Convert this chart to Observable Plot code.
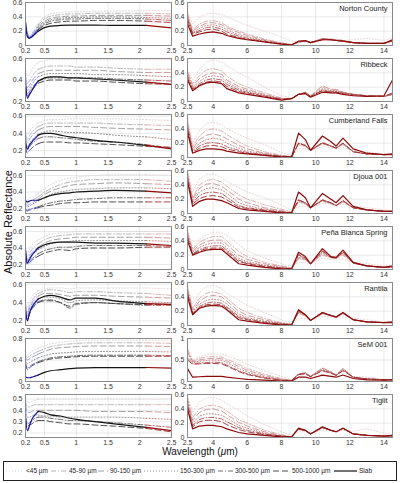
<!DOCTYPE html>
<html>
<head>
<meta charset="utf-8">
<script src="https://cdn.jsdelivr.net/npm/d3@7"></script>
<script src="https://cdn.jsdelivr.net/npm/@observablehq/plot@0.6"></script>
<style>
  body { margin: 0; background: #fff; }
  #fig { position: relative; width: 400px; height: 483px; overflow: hidden; background: #fff;
         font-family: "Liberation Sans", Arial, Helvetica, sans-serif; color: #222; }
  #fig svg { position: absolute; overflow: visible; }
  .lbl { position: absolute; white-space: nowrap; color: #111; }
</style>
</head>
<body>
<div id="fig"></div>
<script>
// ---- categories and axis labels ----
const sizes = ["<45 µm", "45-90 µm", "90-150 µm", "150-300 µm", "300-500 µm", "500-1000 µm", "Slab"];
const meteorites = ["Norton County", "Ribbeck", "Cumberland Falls", "Djoua 001",
                    "Peña Blanca Spring", "Rantila", "SeM 001", "Tiglit"];

// wavelength samples (µm)
const wlVis = [0.2, 0.23, 0.26, 0.3, 0.35, 0.4, 0.5, 0.6, 0.75, 0.9, 1.0, 1.3, 1.6, 2.1, 2.5];
const wlIr = [2.5, 2.8, 3.2, 3.6, 4.0, 4.5, 4.8, 5.5, 6.0, 7.0, 8.0, 8.6, 9.0, 9.4, 9.7,
              10.4, 10.9, 11.2, 11.6, 12.2, 13.0, 14.0, 14.5];

const visTicks = [0.2, 0.5, 1, 1.5, 2, 2.5];
const irTicks = [2.5, 4, 6, 8, 10, 12, 14];
const yTicksVis = [[0, 0.2, 0.4, 0.6], [0.2, 0.4, 0.6], [0.2, 0.4, 0.6], [0.2, 0.4, 0.6],
                   [0.2, 0.4, 0.6], [0.2, 0.4, 0.6], [0, 0.4, 0.8], [0.2, 0.3, 0.4, 0.5]];
const yTicksIr = [[0, 0.2, 0.4, 0.6], [0, 0.2, 0.4, 0.6], [0, 0.2, 0.4, 0.6], [0, 0.2, 0.4, 0.6],
                  [0, 0.2, 0.4, 0.6], [0, 0.2, 0.4, 0.6], [0, 0.5, 1], [0, 0.2, 0.4, 0.6]];
const yLimVis = [[0, 0.6], [0.2, 0.6], [0.12, 0.62], [0.14, 0.66], [0.14, 0.66], [0.15, 0.62], [0, 0.8], [0.16, 0.54]];
const yLimIr = [[0, 0.6], [0, 0.6], [0, 0.6], [0, 0.6], [0, 0.6], [0, 0.6], [0, 1], [0, 0.6]];

// ---- reflectance, one row per grain size (<45 ... Slab) ----
const nortonVis = [
  [0.36, 0.2, 0.14, 0.17, 0.24, 0.32, 0.40, 0.44, 0.46, 0.47, 0.47, 0.48, 0.48, 0.49, 0.49],
  [0.34, 0.18, 0.13, 0.16, 0.22, 0.29, 0.37, 0.41, 0.43, 0.44, 0.44, 0.45, 0.45, 0.45, 0.44],
  [0.32, 0.16, 0.12, 0.15, 0.2, 0.27, 0.34, 0.38, 0.40, 0.41, 0.41, 0.42, 0.42, 0.42, 0.41],
  [0.3, 0.15, 0.12, 0.14, 0.19, 0.25, 0.32, 0.36, 0.38, 0.39, 0.39, 0.40, 0.40, 0.39, 0.38],
  [0.28, 0.14, 0.11, 0.13, 0.18, 0.23, 0.30, 0.34, 0.36, 0.37, 0.37, 0.38, 0.38, 0.37, 0.35],
  [0.26, 0.13, 0.11, 0.13, 0.17, 0.22, 0.28, 0.31, 0.33, 0.34, 0.34, 0.35, 0.35, 0.34, 0.32],
  [0.32, 0.12, 0.1, 0.12, 0.16, 0.2, 0.25, 0.27, 0.28, 0.285, 0.285, 0.285, 0.28, 0.28, 0.245]
];
const nortonIr = [
  [0.5, 0.3, 0.4, 0.44, 0.45, 0.43, 0.4, 0.33, 0.28, 0.2, 0.12, 0.06, 0.05, 0.06, 0.05, 0.08, 0.08, 0.07, 0.07, 0.08, 0.1, 0.07, 0.1],
  [0.45, 0.22, 0.3, 0.34, 0.35, 0.32, 0.27, 0.2, 0.16, 0.09, 0.04, 0.01, 0.05, 0.06, 0.04, 0.1, 0.09, 0.08, 0.07, 0.04, 0.03, 0.03, 0.06],
  [0.42, 0.2, 0.27, 0.31, 0.32, 0.29, 0.25, 0.18, 0.14, 0.08, 0.03, 0.01, 0.05, 0.06, 0.04, 0.1, 0.09, 0.08, 0.07, 0.04, 0.03, 0.03, 0.06],
  [0.4, 0.18, 0.24, 0.28, 0.29, 0.26, 0.22, 0.15, 0.12, 0.07, 0.03, 0.01, 0.05, 0.06, 0.04, 0.09, 0.08, 0.08, 0.07, 0.04, 0.03, 0.03, 0.06],
  [0.38, 0.17, 0.21, 0.25, 0.26, 0.23, 0.19, 0.13, 0.1, 0.06, 0.02, 0.01, 0.05, 0.06, 0.04, 0.09, 0.08, 0.07, 0.06, 0.04, 0.03, 0.03, 0.06],
  [0.35, 0.16, 0.19, 0.22, 0.23, 0.2, 0.16, 0.11, 0.09, 0.05, 0.02, 0.01, 0.05, 0.06, 0.04, 0.08, 0.08, 0.07, 0.06, 0.04, 0.03, 0.03, 0.07],
  [0.3, 0.13, 0.16, 0.18, 0.19, 0.17, 0.14, 0.1, 0.08, 0.05, 0.02, 0.01, 0.06, 0.07, 0.04, 0.08, 0.08, 0.07, 0.06, 0.04, 0.03, 0.03, 0.08]
];
const ribbeckVis = [
  [0.52, 0.44, 0.45, 0.5, 0.54, 0.56, 0.58, 0.59, 0.59, 0.59, 0.59, 0.59, 0.59, 0.59, 0.59],
  [0.46, 0.37, 0.39, 0.43, 0.47, 0.5, 0.52, 0.53, 0.53, 0.53, 0.52, 0.52, 0.51, 0.5, 0.5],
  [0.42, 0.33, 0.35, 0.39, 0.43, 0.46, 0.48, 0.49, 0.49, 0.49, 0.49, 0.49, 0.48, 0.47, 0.47],
  [0.4, 0.3, 0.32, 0.36, 0.4, 0.43, 0.45, 0.46, 0.46, 0.46, 0.46, 0.45, 0.45, 0.44, 0.43],
  [0.36, 0.27, 0.29, 0.33, 0.36, 0.39, 0.41, 0.42, 0.42, 0.42, 0.42, 0.42, 0.41, 0.4, 0.39],
  [0.34, 0.25, 0.27, 0.31, 0.34, 0.37, 0.39, 0.4, 0.4, 0.4, 0.39, 0.39, 0.38, 0.365, 0.36],
  [0.36, 0.23, 0.26, 0.3, 0.35, 0.39, 0.42, 0.43, 0.43, 0.42, 0.42, 0.41, 0.4, 0.38, 0.36]
];
const ribbeckIr = [
  [0.45, 0.3, 0.45, 0.55, 0.58, 0.55, 0.5, 0.4, 0.34, 0.2, 0.08, 0.05, 0.1, 0.12, 0.08, 0.14, 0.12, 0.12, 0.1, 0.08, 0.08, 0.08, 0.12],
  [0.42, 0.25, 0.36, 0.44, 0.46, 0.43, 0.35, 0.25, 0.2, 0.12, 0.05, 0.04, 0.1, 0.13, 0.08, 0.2, 0.16, 0.16, 0.13, 0.1, 0.08, 0.07, 0.1],
  [0.4, 0.22, 0.32, 0.38, 0.4, 0.38, 0.3, 0.21, 0.17, 0.1, 0.04, 0.04, 0.1, 0.13, 0.08, 0.22, 0.17, 0.17, 0.13, 0.1, 0.08, 0.07, 0.1],
  [0.38, 0.2, 0.28, 0.34, 0.36, 0.34, 0.27, 0.18, 0.15, 0.09, 0.04, 0.04, 0.1, 0.12, 0.07, 0.18, 0.15, 0.15, 0.12, 0.1, 0.08, 0.07, 0.1],
  [0.35, 0.18, 0.25, 0.3, 0.32, 0.3, 0.24, 0.16, 0.13, 0.08, 0.03, 0.04, 0.1, 0.12, 0.07, 0.16, 0.14, 0.14, 0.12, 0.1, 0.08, 0.07, 0.1],
  [0.32, 0.17, 0.23, 0.27, 0.29, 0.27, 0.21, 0.14, 0.12, 0.07, 0.03, 0.04, 0.1, 0.12, 0.07, 0.15, 0.13, 0.13, 0.11, 0.09, 0.08, 0.07, 0.12],
  [0.3, 0.15, 0.22, 0.26, 0.27, 0.25, 0.18, 0.12, 0.1, 0.06, 0.02, 0.04, 0.1, 0.11, 0.06, 0.13, 0.12, 0.12, 0.1, 0.08, 0.07, 0.08, 0.3]
];
const cumberlandVis = [
  [0.45, 0.38, 0.42, 0.46, 0.5, 0.52, 0.55, 0.56, 0.56, 0.57, 0.57, 0.57, 0.57, 0.56, 0.55],
  [0.4, 0.33, 0.37, 0.41, 0.45, 0.48, 0.51, 0.52, 0.52, 0.52, 0.52, 0.52, 0.51, 0.5, 0.49],
  [0.36, 0.29, 0.33, 0.37, 0.41, 0.44, 0.47, 0.48, 0.48, 0.48, 0.48, 0.47, 0.46, 0.45, 0.44],
  [0.32, 0.25, 0.28, 0.32, 0.36, 0.39, 0.42, 0.43, 0.42, 0.41, 0.41, 0.4, 0.38, 0.36, 0.33],
  [0.28, 0.21, 0.24, 0.28, 0.31, 0.34, 0.36, 0.36, 0.35, 0.34, 0.33, 0.31, 0.3, 0.27, 0.23],
  [0.24, 0.17, 0.2, 0.23, 0.26, 0.28, 0.3, 0.3, 0.3, 0.29, 0.29, 0.28, 0.27, 0.25, 0.24],
  [0.3, 0.22, 0.26, 0.3, 0.34, 0.38, 0.4, 0.4, 0.38, 0.36, 0.35, 0.32, 0.3, 0.26, 0.22]
];
const cumberlandIr = [
  [0.55, 0.2, 0.38, 0.47, 0.49, 0.46, 0.4, 0.32, 0.27, 0.18, 0.07, 0.02, 0.12, 0.12, 0.1, 0.15, 0.14, 0.12, 0.14, 0.1, 0.08, 0.05, 0.05],
  [0.5, 0.15, 0.3, 0.38, 0.4, 0.37, 0.32, 0.22, 0.16, 0.08, 0.03, 0.01, 0.18, 0.15, 0.1, 0.19, 0.16, 0.13, 0.18, 0.08, 0.05, 0.04, 0.04],
  [0.47, 0.12, 0.25, 0.31, 0.33, 0.3, 0.26, 0.17, 0.12, 0.06, 0.02, 0.01, 0.19, 0.16, 0.1, 0.2, 0.16, 0.13, 0.19, 0.08, 0.05, 0.04, 0.04],
  [0.45, 0.1, 0.2, 0.25, 0.27, 0.25, 0.2, 0.13, 0.09, 0.05, 0.02, 0.01, 0.2, 0.16, 0.1, 0.2, 0.16, 0.13, 0.2, 0.08, 0.05, 0.04, 0.04],
  [0.42, 0.08, 0.16, 0.2, 0.21, 0.19, 0.15, 0.1, 0.07, 0.04, 0.02, 0.01, 0.2, 0.17, 0.1, 0.2, 0.16, 0.13, 0.2, 0.08, 0.05, 0.04, 0.04],
  [0.4, 0.07, 0.13, 0.16, 0.17, 0.15, 0.12, 0.08, 0.06, 0.03, 0.01, 0.01, 0.2, 0.17, 0.1, 0.21, 0.16, 0.13, 0.2, 0.08, 0.05, 0.04, 0.04],
  [0.35, 0.06, 0.1, 0.12, 0.12, 0.11, 0.09, 0.06, 0.05, 0.03, 0.01, 0.01, 0.34, 0.25, 0.1, 0.3, 0.22, 0.16, 0.27, 0.12, 0.06, 0.04, 0.05]
];
const djouaVis = [
  [0.32, 0.3, 0.32, 0.34, 0.36, 0.38, 0.44, 0.49, 0.54, 0.57, 0.58, 0.6, 0.61, 0.61, 0.6],
  [0.28, 0.26, 0.28, 0.3, 0.32, 0.34, 0.4, 0.44, 0.49, 0.52, 0.53, 0.55, 0.55, 0.55, 0.53],
  [0.26, 0.24, 0.25, 0.27, 0.29, 0.31, 0.37, 0.41, 0.45, 0.48, 0.49, 0.5, 0.51, 0.5, 0.49],
  [0.24, 0.22, 0.23, 0.25, 0.27, 0.29, 0.33, 0.37, 0.4, 0.42, 0.43, 0.44, 0.45, 0.45, 0.44],
  [0.2, 0.18, 0.19, 0.2, 0.21, 0.22, 0.25, 0.27, 0.29, 0.3, 0.31, 0.32, 0.33, 0.33, 0.33],
  [0.18, 0.17, 0.18, 0.19, 0.2, 0.21, 0.23, 0.24, 0.26, 0.27, 0.27, 0.28, 0.28, 0.28, 0.28],
  [0.3, 0.28, 0.29, 0.3, 0.3, 0.3, 0.33, 0.36, 0.38, 0.39, 0.4, 0.41, 0.42, 0.41, 0.39]
];
const djouaIr = [
  [0.6, 0.3, 0.48, 0.54, 0.55, 0.5, 0.45, 0.36, 0.3, 0.22, 0.12, 0.04, 0.1, 0.1, 0.08, 0.14, 0.13, 0.11, 0.13, 0.1, 0.08, 0.05, 0.04],
  [0.58, 0.22, 0.4, 0.46, 0.48, 0.44, 0.38, 0.26, 0.2, 0.12, 0.06, 0.02, 0.16, 0.13, 0.08, 0.17, 0.14, 0.11, 0.16, 0.08, 0.05, 0.03, 0.03],
  [0.55, 0.2, 0.35, 0.41, 0.42, 0.38, 0.33, 0.2, 0.15, 0.08, 0.04, 0.01, 0.17, 0.14, 0.08, 0.18, 0.14, 0.11, 0.17, 0.08, 0.05, 0.03, 0.03],
  [0.52, 0.17, 0.3, 0.35, 0.36, 0.33, 0.28, 0.15, 0.11, 0.06, 0.03, 0.01, 0.18, 0.14, 0.08, 0.18, 0.14, 0.11, 0.18, 0.08, 0.05, 0.03, 0.03],
  [0.5, 0.15, 0.25, 0.29, 0.3, 0.28, 0.23, 0.11, 0.08, 0.05, 0.02, 0.01, 0.19, 0.15, 0.08, 0.19, 0.15, 0.11, 0.18, 0.08, 0.05, 0.03, 0.03],
  [0.48, 0.13, 0.21, 0.24, 0.25, 0.23, 0.19, 0.09, 0.07, 0.04, 0.02, 0.01, 0.19, 0.15, 0.08, 0.19, 0.15, 0.11, 0.18, 0.08, 0.05, 0.03, 0.03],
  [0.45, 0.1, 0.17, 0.2, 0.2, 0.18, 0.15, 0.07, 0.05, 0.03, 0.01, 0.01, 0.3, 0.22, 0.08, 0.28, 0.2, 0.15, 0.25, 0.1, 0.05, 0.03, 0.03]
];
const penaVis = [
  [0.4, 0.34, 0.38, 0.43, 0.47, 0.5, 0.54, 0.57, 0.58, 0.59, 0.6, 0.6, 0.6, 0.6, 0.6],
  [0.36, 0.3, 0.33, 0.38, 0.42, 0.45, 0.5, 0.53, 0.55, 0.56, 0.57, 0.57, 0.57, 0.57, 0.57],
  [0.33, 0.27, 0.3, 0.34, 0.38, 0.41, 0.46, 0.49, 0.51, 0.52, 0.53, 0.53, 0.53, 0.53, 0.52],
  [0.31, 0.25, 0.28, 0.32, 0.35, 0.38, 0.42, 0.45, 0.47, 0.48, 0.49, 0.49, 0.49, 0.49, 0.48],
  [0.3, 0.22, 0.24, 0.27, 0.3, 0.33, 0.37, 0.39, 0.41, 0.41, 0.42, 0.43, 0.43, 0.43, 0.42],
  [0.28, 0.2, 0.22, 0.25, 0.28, 0.3, 0.34, 0.36, 0.38, 0.37, 0.39, 0.4, 0.4, 0.41, 0.41],
  [0.38, 0.22, 0.26, 0.31, 0.36, 0.4, 0.44, 0.46, 0.47, 0.47, 0.47, 0.46, 0.46, 0.45, 0.43]
];
const penaIr = [
  [0.55, 0.3, 0.42, 0.48, 0.52, 0.52, 0.47, 0.35, 0.26, 0.16, 0.08, 0.04, 0.1, 0.1, 0.08, 0.16, 0.14, 0.13, 0.15, 0.1, 0.08, 0.05, 0.05],
  [0.53, 0.28, 0.38, 0.43, 0.46, 0.46, 0.4, 0.25, 0.18, 0.1, 0.05, 0.02, 0.15, 0.13, 0.08, 0.2, 0.16, 0.15, 0.2, 0.09, 0.05, 0.03, 0.03],
  [0.5, 0.26, 0.34, 0.39, 0.41, 0.41, 0.35, 0.2, 0.14, 0.08, 0.04, 0.02, 0.16, 0.14, 0.08, 0.22, 0.17, 0.16, 0.22, 0.09, 0.05, 0.03, 0.03],
  [0.48, 0.24, 0.31, 0.35, 0.37, 0.37, 0.3, 0.16, 0.11, 0.06, 0.03, 0.01, 0.17, 0.14, 0.08, 0.23, 0.17, 0.16, 0.23, 0.09, 0.05, 0.03, 0.03],
  [0.46, 0.22, 0.28, 0.31, 0.33, 0.33, 0.27, 0.13, 0.09, 0.05, 0.02, 0.01, 0.2, 0.15, 0.08, 0.25, 0.17, 0.16, 0.24, 0.09, 0.05, 0.03, 0.03],
  [0.44, 0.21, 0.26, 0.29, 0.3, 0.3, 0.25, 0.11, 0.08, 0.04, 0.02, 0.01, 0.21, 0.16, 0.08, 0.26, 0.17, 0.16, 0.25, 0.09, 0.05, 0.03, 0.03],
  [0.4, 0.2, 0.24, 0.27, 0.28, 0.28, 0.22, 0.08, 0.06, 0.03, 0.01, 0.01, 0.24, 0.18, 0.08, 0.29, 0.18, 0.17, 0.27, 0.1, 0.05, 0.03, 0.05]
];
const rantilaVis = [
  [0.42, 0.34, 0.4, 0.46, 0.5, 0.53, 0.55, 0.56, 0.56, 0.55, 0.56, 0.56, 0.56, 0.56, 0.55],
  [0.38, 0.3, 0.36, 0.42, 0.47, 0.5, 0.53, 0.54, 0.53, 0.51, 0.52, 0.52, 0.51, 0.5, 0.48],
  [0.35, 0.27, 0.33, 0.39, 0.44, 0.47, 0.5, 0.5, 0.49, 0.47, 0.48, 0.48, 0.47, 0.46, 0.45],
  [0.33, 0.25, 0.31, 0.37, 0.41, 0.44, 0.46, 0.46, 0.44, 0.4, 0.42, 0.43, 0.42, 0.41, 0.4],
  [0.3, 0.22, 0.28, 0.34, 0.38, 0.41, 0.43, 0.43, 0.4, 0.34, 0.38, 0.4, 0.39, 0.37, 0.37],
  [0.28, 0.21, 0.27, 0.33, 0.37, 0.4, 0.42, 0.42, 0.4, 0.36, 0.39, 0.4, 0.39, 0.38, 0.38],
  [0.32, 0.2, 0.28, 0.35, 0.4, 0.44, 0.47, 0.48, 0.46, 0.43, 0.45, 0.45, 0.42, 0.39, 0.38]
];
const rantilaIr = [
  [0.55, 0.3, 0.46, 0.54, 0.56, 0.52, 0.45, 0.35, 0.28, 0.18, 0.08, 0.03, 0.1, 0.1, 0.08, 0.13, 0.12, 0.11, 0.12, 0.1, 0.08, 0.05, 0.05],
  [0.52, 0.24, 0.38, 0.45, 0.47, 0.44, 0.38, 0.24, 0.18, 0.1, 0.04, 0.02, 0.17, 0.13, 0.07, 0.16, 0.13, 0.11, 0.16, 0.08, 0.05, 0.04, 0.04],
  [0.5, 0.21, 0.34, 0.4, 0.42, 0.4, 0.34, 0.2, 0.14, 0.08, 0.03, 0.01, 0.18, 0.14, 0.07, 0.17, 0.14, 0.11, 0.17, 0.08, 0.05, 0.04, 0.04],
  [0.48, 0.19, 0.3, 0.35, 0.37, 0.35, 0.3, 0.16, 0.11, 0.06, 0.03, 0.01, 0.19, 0.14, 0.07, 0.17, 0.14, 0.11, 0.17, 0.08, 0.05, 0.04, 0.04],
  [0.46, 0.17, 0.27, 0.31, 0.33, 0.31, 0.26, 0.13, 0.09, 0.05, 0.02, 0.01, 0.2, 0.15, 0.07, 0.18, 0.14, 0.12, 0.18, 0.08, 0.05, 0.04, 0.04],
  [0.44, 0.16, 0.25, 0.29, 0.3, 0.29, 0.24, 0.11, 0.08, 0.04, 0.02, 0.01, 0.2, 0.15, 0.07, 0.18, 0.14, 0.12, 0.18, 0.08, 0.05, 0.04, 0.04],
  [0.4, 0.15, 0.24, 0.27, 0.28, 0.27, 0.22, 0.08, 0.06, 0.03, 0.01, 0.01, 0.22, 0.15, 0.07, 0.18, 0.14, 0.12, 0.18, 0.08, 0.05, 0.04, 0.05]
];
const semVis = [
  [0.55, 0.5, 0.52, 0.56, 0.59, 0.62, 0.66, 0.7, 0.73, 0.75, 0.76, 0.77, 0.77, 0.77, 0.77],
  [0.5, 0.45, 0.47, 0.5, 0.53, 0.56, 0.61, 0.65, 0.68, 0.7, 0.71, 0.72, 0.72, 0.72, 0.71],
  [0.45, 0.4, 0.42, 0.45, 0.48, 0.51, 0.56, 0.6, 0.63, 0.64, 0.65, 0.66, 0.66, 0.66, 0.65],
  [0.4, 0.33, 0.35, 0.38, 0.41, 0.44, 0.48, 0.51, 0.53, 0.54, 0.55, 0.56, 0.56, 0.56, 0.55],
  [0.35, 0.24, 0.27, 0.31, 0.34, 0.37, 0.41, 0.44, 0.46, 0.47, 0.48, 0.49, 0.49, 0.49, 0.48],
  [0.33, 0.22, 0.25, 0.29, 0.32, 0.35, 0.39, 0.42, 0.44, 0.45, 0.46, 0.47, 0.47, 0.47, 0.47],
  [0.09, 0.07, 0.07, 0.08, 0.1, 0.12, 0.17, 0.2, 0.22, 0.24, 0.25, 0.26, 0.26, 0.26, 0.25]
];
const semIr = [
  [0.8, 0.5, 0.58, 0.62, 0.64, 0.64, 0.6, 0.5, 0.4, 0.25, 0.12, 0.05, 0.15, 0.16, 0.12, 0.25, 0.2, 0.16, 0.25, 0.12, 0.1, 0.05, 0.05],
  [0.75, 0.48, 0.54, 0.57, 0.58, 0.57, 0.52, 0.4, 0.3, 0.17, 0.07, 0.03, 0.18, 0.2, 0.12, 0.3, 0.22, 0.15, 0.3, 0.1, 0.06, 0.04, 0.04],
  [0.7, 0.46, 0.5, 0.53, 0.54, 0.53, 0.48, 0.35, 0.26, 0.14, 0.05, 0.02, 0.18, 0.2, 0.12, 0.32, 0.22, 0.15, 0.3, 0.1, 0.06, 0.04, 0.04],
  [0.65, 0.44, 0.47, 0.49, 0.5, 0.49, 0.44, 0.3, 0.22, 0.11, 0.04, 0.02, 0.17, 0.2, 0.12, 0.3, 0.22, 0.15, 0.3, 0.1, 0.06, 0.04, 0.04],
  [0.55, 0.42, 0.43, 0.44, 0.45, 0.44, 0.38, 0.25, 0.18, 0.09, 0.03, 0.02, 0.16, 0.19, 0.11, 0.27, 0.2, 0.14, 0.27, 0.1, 0.06, 0.04, 0.04],
  [0.5, 0.4, 0.41, 0.42, 0.42, 0.41, 0.36, 0.23, 0.16, 0.08, 0.03, 0.02, 0.16, 0.18, 0.11, 0.25, 0.19, 0.14, 0.25, 0.1, 0.06, 0.04, 0.04],
  [0.3, 0.1, 0.11, 0.12, 0.12, 0.12, 0.1, 0.07, 0.05, 0.03, 0.01, 0.01, 0.1, 0.1, 0.07, 0.15, 0.12, 0.1, 0.15, 0.07, 0.04, 0.03, 0.04]
];
const tiglitVis = [
  [0.51, 0.47, 0.47, 0.48, 0.49, 0.5, 0.5, 0.5, 0.5, 0.5, 0.5, 0.5, 0.5, 0.5, 0.5],
  [0.48, 0.43, 0.43, 0.44, 0.45, 0.45, 0.45, 0.45, 0.45, 0.45, 0.45, 0.45, 0.45, 0.45, 0.45],
  [0.45, 0.38, 0.38, 0.39, 0.4, 0.4, 0.4, 0.4, 0.4, 0.4, 0.4, 0.39, 0.39, 0.39, 0.38],
  [0.42, 0.34, 0.34, 0.35, 0.36, 0.36, 0.35, 0.35, 0.34, 0.34, 0.34, 0.34, 0.34, 0.33, 0.32],
  [0.36, 0.28, 0.29, 0.31, 0.33, 0.34, 0.34, 0.33, 0.32, 0.31, 0.31, 0.3, 0.29, 0.27, 0.25],
  [0.33, 0.26, 0.27, 0.28, 0.3, 0.31, 0.31, 0.3, 0.29, 0.28, 0.28, 0.27, 0.26, 0.24, 0.21],
  [0.33, 0.22, 0.26, 0.32, 0.36, 0.39, 0.38, 0.36, 0.35, 0.33, 0.32, 0.3, 0.28, 0.25, 0.22]
];
const tiglitIr = [
  [0.58, 0.35, 0.5, 0.55, 0.56, 0.52, 0.47, 0.38, 0.3, 0.18, 0.08, 0.03, 0.08, 0.08, 0.06, 0.1, 0.1, 0.09, 0.1, 0.09, 0.12, 0.06, 0.04],
  [0.55, 0.28, 0.4, 0.44, 0.45, 0.42, 0.37, 0.25, 0.2, 0.1, 0.04, 0.01, 0.11, 0.09, 0.05, 0.13, 0.1, 0.08, 0.12, 0.05, 0.03, 0.02, 0.02],
  [0.52, 0.24, 0.35, 0.39, 0.4, 0.37, 0.32, 0.21, 0.16, 0.08, 0.03, 0.01, 0.12, 0.1, 0.05, 0.14, 0.1, 0.08, 0.13, 0.05, 0.03, 0.02, 0.02],
  [0.5, 0.2, 0.3, 0.33, 0.33, 0.31, 0.27, 0.17, 0.13, 0.06, 0.02, 0.01, 0.12, 0.1, 0.05, 0.14, 0.1, 0.08, 0.13, 0.05, 0.03, 0.02, 0.02],
  [0.46, 0.17, 0.25, 0.28, 0.28, 0.26, 0.22, 0.14, 0.1, 0.05, 0.02, 0.01, 0.12, 0.1, 0.05, 0.14, 0.1, 0.08, 0.13, 0.05, 0.03, 0.02, 0.02],
  [0.44, 0.15, 0.22, 0.24, 0.24, 0.22, 0.18, 0.11, 0.08, 0.04, 0.02, 0.01, 0.12, 0.1, 0.05, 0.14, 0.1, 0.08, 0.13, 0.05, 0.03, 0.02, 0.02],
  [0.4, 0.12, 0.16, 0.17, 0.17, 0.15, 0.12, 0.07, 0.05, 0.03, 0.01, 0.01, 0.13, 0.1, 0.05, 0.15, 0.1, 0.08, 0.13, 0.05, 0.03, 0.02, 0.03]
];

const visPanels = [nortonVis, ribbeckVis, cumberlandVis, djouaVis, penaVis, rantilaVis, semVis, tiglitVis];
const irPanels = [nortonIr, ribbeckIr, cumberlandIr, djouaIr, penaIr, rantilaIr, semIr, tiglitIr];

// ---- styling ----
const dashes = ["1,2", "5,2,1,2", "6,3", "1,2", "5,2,1,2", "6,3", undefined];
const fade = [0.8, 0.66, 0.55, 0.44, 0.3, 0.16, 0];
const widths = [0.9, 0.9, 0.9, 0.9, 0.9, 0.9, 1.2];
const UV = "#14148c", VIS = "#141414", IR = "#8c0a0a";
const shade = (base, t) => d3.interpolateRgb(base, "#ffffff")(t);
const FONT = '"Liberation Sans", Arial, Helvetica, sans-serif';
const fmt = d3.format("~g");

const ROW0 = 2, PITCH = 56, PH = 43;
const L_X0 = 25, L_W = 146;   // left column plot area
const R_X0 = 187, R_W = 205;  // right column plot area

const fig = document.getElementById("fig");

function place(svg, left, top) {
  svg.style.left = left + "px";
  svg.style.top = top + "px";
  fig.appendChild(svg);
}

function axisOpts(domain, ticks) {
  return { domain, ticks, tickFormat: fmt, tickSize: 0, tickPadding: 3, grid: true, label: null };
}

// UV–VIS–NIR panel: blue below 0.4 µm, grey to 2.1 µm, red beyond
function visPanel(r) {
  const marks = [];
  visPanels[r].forEach((vals, s) => {
    const pts = wlVis.map((x, i) => ({ x, y: vals[i] }));
    const parts = [
      [UV, pts.filter(p => p.x <= 0.4)],
      [VIS, pts.filter(p => p.x >= 0.4 && p.x <= 2.1)],
      [IR, pts.filter(p => p.x >= 2.1)]
    ];
    for (const [base, data] of parts) {
      marks.push(Plot.line(data, {
        x: "x", y: "y", stroke: shade(base, fade[s]), strokeWidth: widths[s],
        strokeDasharray: dashes[s], curve: "monotone-x"
      }));
    }
  });
  const svg = Plot.plot({
    width: L_X0 + L_W + 6, height: 2 + PH + 12,
    marginLeft: L_X0, marginRight: 6, marginTop: 2, marginBottom: 12,
    style: { fontSize: "7px", fontFamily: FONT, color: "#333", background: "transparent" },
    x: axisOpts([0.2, 2.5], visTicks),
    y: axisOpts(yLimVis[r], yTicksVis[r]),
    marks: [...marks, Plot.frame({ stroke: "#8a8a8a" })]
  });
  place(svg, 0, ROW0 + r * PITCH - 2);
}

// mid-IR panel
function irPanel(r) {
  const marks = [];
  irPanels[r].forEach((vals, s) => {
    const pts = wlIr.map((x, i) => ({ x, y: vals[i] }));
    marks.push(Plot.line(pts, {
      x: "x", y: "y", stroke: shade(IR, fade[s]), strokeWidth: widths[s],
      strokeDasharray: dashes[s], curve: "linear"
    }));
  });
  marks.push(Plot.text([meteorites[r]], {
    text: d => d, frameAnchor: "top-right", dx: -5, dy: 3.5,
    textAnchor: "end", lineAnchor: "top", fontSize: 7.5, fill: "#222"
  }));
  const svg = Plot.plot({
    width: 16 + R_W + 8, height: 2 + PH + 12,
    marginLeft: 16, marginRight: 8, marginTop: 2, marginBottom: 12,
    style: { fontSize: "7px", fontFamily: FONT, color: "#333", background: "transparent" },
    x: axisOpts([2.5, 14.5], irTicks),
    y: axisOpts(yLimIr[r], yTicksIr[r]),
    marks: [...marks, Plot.frame({ stroke: "#8a8a8a" })]
  });
  place(svg, R_X0 - 16, ROW0 + r * PITCH - 2);
}

for (let r = 0; r < meteorites.length; r++) {
  visPanel(r);
  irPanel(r);
}

// shared axis titles
const yTitle = document.createElement("div");
yTitle.className = "lbl";
yTitle.textContent = "Absolute Reflectance";
yTitle.style.fontSize = "11px";
yTitle.style.left = "8px";
yTitle.style.top = "222px";
yTitle.style.transform = "translate(-50%, -50%) rotate(-90deg)";
fig.appendChild(yTitle);

const xTitle = document.createElement("div");
xTitle.className = "lbl";
xTitle.innerHTML = "Wavelength (<i>μ</i>m)";
xTitle.style.fontSize = "10px";
xTitle.style.left = "200px";
xTitle.style.top = "451px";
xTitle.style.transform = "translate(-50%, -50%)";
fig.appendChild(xTitle);

// legend box: [sample start, sample end, label start] per entry
const legendSlots = [[6, 24, 26], [51, 67, 69], [98, 108, 110], [144, 178, 180],
                     [218, 233, 235], [273, 290, 292], [334, 357, 359]];
const leg = d3.create("svg").attr("width", 400).attr("height", 21)
  .style("font-family", FONT).style("font-size", "6.5px");
leg.append("rect").attr("x", 3.5).attr("y", 0.5).attr("width", 393).attr("height", 19)
  .attr("fill", "#fff").attr("stroke", "#222").attr("stroke-width", 1);
sizes.forEach((name, s) => {
  const [a, b, t] = legendSlots[s];
  leg.append("line").attr("x1", a).attr("x2", b).attr("y1", 10).attr("y2", 10)
    .attr("stroke", shade(VIS, fade[s])).attr("stroke-width", widths[s])
    .attr("stroke-dasharray", dashes[s] || null);
  leg.append("text").attr("x", t).attr("y", 10).attr("dy", "0.35em")
    .attr("fill", "#222").text(name);
});
place(leg.node(), 0, 461);
</script>
</body>
</html>
